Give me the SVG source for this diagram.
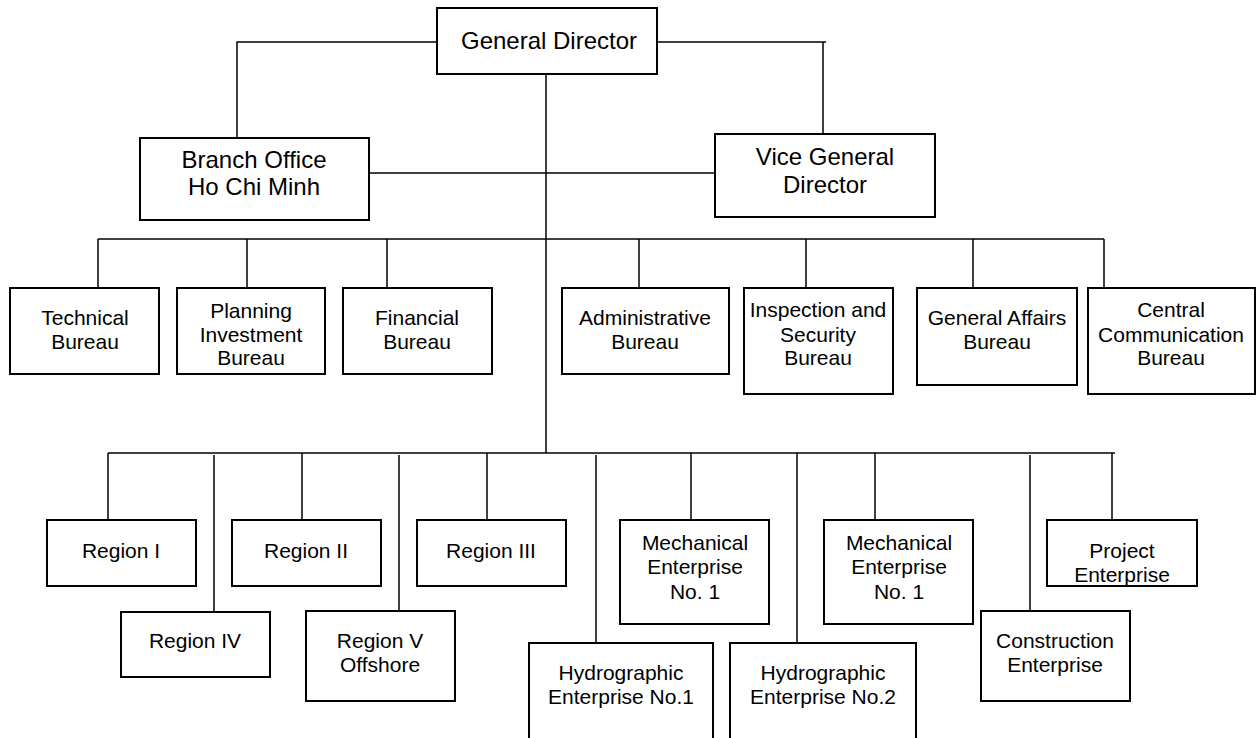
<svg xmlns="http://www.w3.org/2000/svg" width="1256" height="738" viewBox="0 0 1256 738">
  <style>
    .box { fill: #ffffff; stroke: #000000; stroke-width: 2; }
    .wire { fill: none; stroke: #000000; stroke-width: 1.5; }
    text { font-family: "Liberation Sans", Arial, sans-serif; fill: #000000; text-anchor: middle; }
    .big { font-size: 24px; }
    .lbl { font-size: 21px; }
  </style>
  <rect width="1256" height="738" fill="#ffffff"/>

  <!-- connectors -->
  <g id="connectors" class="wire">
    <polyline points="237,138 237,42 437,42"/>
    <polyline points="657,42 826,42"/>
    <polyline points="823,42 823,140"/>
    <line x1="369" y1="173" x2="715" y2="173"/>
    <line x1="546" y1="74" x2="546" y2="453"/>
    <!-- bureau bus -->
    <line x1="98" y1="239" x2="1104" y2="239"/>
    <line x1="98" y1="239" x2="98" y2="288"/>
    <line x1="247" y1="239" x2="247" y2="288"/>
    <line x1="387" y1="239" x2="387" y2="288"/>
    <line x1="639" y1="239" x2="639" y2="288"/>
    <line x1="806" y1="239" x2="806" y2="288"/>
    <line x1="973" y1="239" x2="973" y2="288"/>
    <line x1="1104" y1="239" x2="1104" y2="288"/>
    <!-- enterprise bus -->
    <line x1="108" y1="453" x2="1115" y2="453"/>
    <line x1="108" y1="453" x2="108" y2="520"/>
    <line x1="214" y1="455" x2="214" y2="612"/>
    <line x1="302" y1="453" x2="302" y2="520"/>
    <line x1="399" y1="455" x2="399" y2="612"/>
    <line x1="487" y1="453" x2="487" y2="520"/>
    <line x1="596" y1="455" x2="596" y2="648"/>
    <line x1="691" y1="453" x2="691" y2="520"/>
    <line x1="797" y1="453" x2="797" y2="646"/>
    <line x1="875" y1="453" x2="875" y2="520"/>
    <line x1="1030" y1="455" x2="1030" y2="612"/>
    <line x1="1112" y1="453" x2="1112" y2="520"/>
  </g>

  <!-- top level -->
  <g id="general-director">
    <rect class="box" x="437" y="8" width="220" height="66"/>
    <text class="big" x="549" y="49">General Director</text>
  </g>
  <g id="branch-office">
    <rect class="box" x="140" y="138" width="229" height="82"/>
    <text class="big" x="254" y="168">Branch Office</text>
    <text class="big" x="254" y="195">Ho Chi Minh</text>
  </g>
  <g id="vice-general-director">
    <rect class="box" x="715" y="134" width="220" height="83"/>
    <text class="big" x="825" y="165">Vice General</text>
    <text class="big" x="825" y="193">Director</text>
  </g>

  <!-- bureaus -->
  <g id="technical-bureau">
    <rect class="box" x="10" y="288" width="149" height="86"/>
    <text class="lbl" x="85" y="325">Technical</text>
    <text class="lbl" x="85" y="349">Bureau</text>
  </g>
  <g id="planning-investment-bureau">
    <rect class="box" x="177" y="288" width="148" height="86"/>
    <text class="lbl" x="251" y="318">Planning</text>
    <text class="lbl" x="251" y="342">Investment</text>
    <text class="lbl" x="251" y="365">Bureau</text>
  </g>
  <g id="financial-bureau">
    <rect class="box" x="343" y="288" width="149" height="86"/>
    <text class="lbl" x="417" y="325">Financial</text>
    <text class="lbl" x="417" y="349">Bureau</text>
  </g>
  <g id="administrative-bureau">
    <rect class="box" x="562" y="288" width="167" height="86"/>
    <text class="lbl" x="645" y="325">Administrative</text>
    <text class="lbl" x="645" y="349">Bureau</text>
  </g>
  <g id="inspection-security-bureau">
    <rect class="box" x="744" y="288" width="149" height="106"/>
    <text class="lbl" x="818" y="317">Inspection and</text>
    <text class="lbl" x="818" y="342">Security</text>
    <text class="lbl" x="818" y="365">Bureau</text>
  </g>
  <g id="general-affairs-bureau">
    <rect class="box" x="917" y="288" width="160" height="97"/>
    <text class="lbl" x="997" y="325">General Affairs</text>
    <text class="lbl" x="997" y="349">Bureau</text>
  </g>
  <g id="central-communication-bureau">
    <rect class="box" x="1088" y="288" width="167" height="106"/>
    <text class="lbl" x="1171" y="317">Central</text>
    <text class="lbl" x="1171" y="342">Communication</text>
    <text class="lbl" x="1171" y="365">Bureau</text>
  </g>

  <!-- regions and enterprises -->
  <g id="region-1">
    <rect class="box" x="47" y="520" width="149" height="66"/>
    <text class="lbl" x="121" y="558">Region I</text>
  </g>
  <g id="region-4">
    <rect class="box" x="121" y="612" width="149" height="65"/>
    <text class="lbl" x="195" y="648">Region IV</text>
  </g>
  <g id="region-2">
    <rect class="box" x="232" y="520" width="149" height="66"/>
    <text class="lbl" x="306" y="558">Region II</text>
  </g>
  <g id="region-5">
    <rect class="box" x="306" y="611" width="149" height="90"/>
    <text class="lbl" x="380" y="648">Region V</text>
    <text class="lbl" x="380" y="672">Offshore</text>
  </g>
  <g id="region-3">
    <rect class="box" x="417" y="520" width="149" height="66"/>
    <text class="lbl" x="491" y="558">Region III</text>
  </g>
  <g id="hydrographic-1">
    <rect class="box" x="529" y="643" width="184" height="120"/>
    <text class="lbl" x="621" y="680">Hydrographic</text>
    <text class="lbl" x="621" y="704">Enterprise No.1</text>
  </g>
  <g id="mechanical-1">
    <rect class="box" x="620" y="520" width="149" height="104"/>
    <text class="lbl" x="695" y="550">Mechanical</text>
    <text class="lbl" x="695" y="574">Enterprise</text>
    <text class="lbl" x="695" y="599">No. 1</text>
  </g>
  <g id="hydrographic-2">
    <rect class="box" x="730" y="643" width="186" height="120"/>
    <text class="lbl" x="823" y="680">Hydrographic</text>
    <text class="lbl" x="823" y="704">Enterprise No.2</text>
  </g>
  <g id="mechanical-2">
    <rect class="box" x="824" y="520" width="149" height="104"/>
    <text class="lbl" x="899" y="550">Mechanical</text>
    <text class="lbl" x="899" y="574">Enterprise</text>
    <text class="lbl" x="899" y="599">No. 1</text>
  </g>
  <g id="construction-enterprise">
    <rect class="box" x="981" y="611" width="149" height="90"/>
    <text class="lbl" x="1055" y="648">Construction</text>
    <text class="lbl" x="1055" y="672">Enterprise</text>
  </g>
  <g id="project-enterprise">
    <rect class="box" x="1047" y="520" width="150" height="66"/>
    <text class="lbl" x="1122" y="558">Project</text>
    <text class="lbl" x="1122" y="582">Enterprise</text>
  </g>
</svg>
